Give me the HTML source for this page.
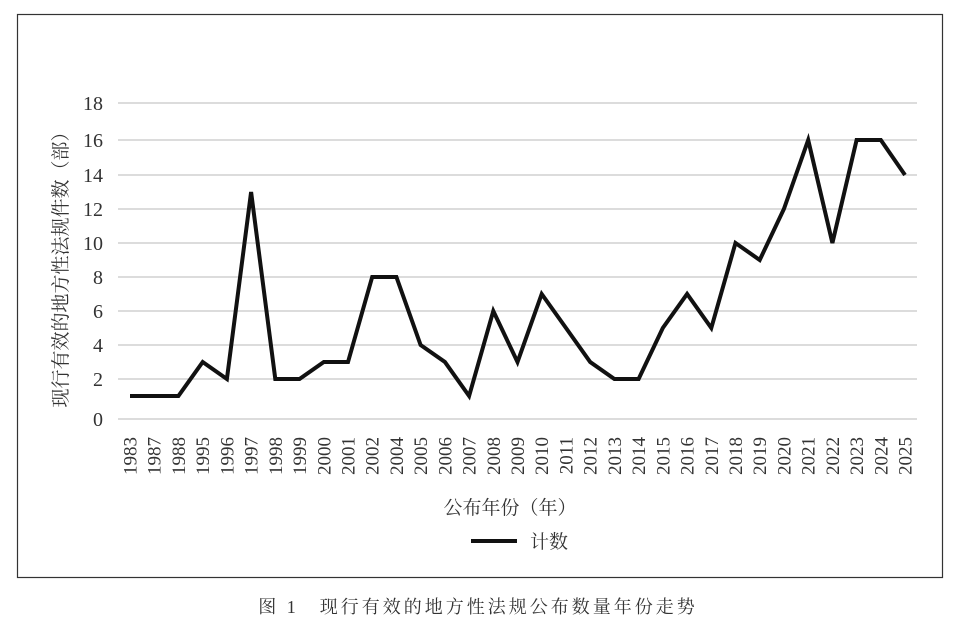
<!DOCTYPE html>
<html><head><meta charset="utf-8"><style>
html,body{margin:0;padding:0;background:#fff;}
svg{display:block;}
text{font-family:"Liberation Serif","Noto Serif CJK SC",serif;fill:#333;}
</style></head><body>
<svg width="966" height="628" viewBox="0 0 966 628" xmlns="http://www.w3.org/2000/svg">
<rect x="17.5" y="14.5" width="925" height="563" fill="none" stroke="#333" stroke-width="1.2"/>
<g stroke="#c8c8c8" stroke-width="1.2">
<line x1="118" x2="917" y1="103" y2="103"/>
<line x1="118" x2="917" y1="140" y2="140"/>
<line x1="118" x2="917" y1="175" y2="175"/>
<line x1="118" x2="917" y1="209" y2="209"/>
<line x1="118" x2="917" y1="243" y2="243"/>
<line x1="118" x2="917" y1="277" y2="277"/>
<line x1="118" x2="917" y1="311" y2="311"/>
<line x1="118" x2="917" y1="345" y2="345"/>
<line x1="118" x2="917" y1="379" y2="379"/>
<line x1="118" x2="917" y1="419" y2="419"/>
</g>
<g font-size="20" text-anchor="end">
<text x="103" y="110">18</text>
<text x="103" y="147">16</text>
<text x="103" y="182">14</text>
<text x="103" y="216">12</text>
<text x="103" y="250">10</text>
<text x="103" y="284">8</text>
<text x="103" y="318">6</text>
<text x="103" y="352">4</text>
<text x="103" y="386">2</text>
<text x="103" y="426">0</text>
</g>
<text transform="translate(67,265) rotate(-90)" font-size="19" text-anchor="middle">现行有效的地方性法规件数（部）</text>
<g id="xl" font-size="19" text-anchor="end"></g>
<polyline id="ln" fill="none" stroke="#111" stroke-width="4" stroke-linejoin="miter" points=""/>
<text x="510" y="514" font-size="19" text-anchor="middle">公布年份（年）</text>
<line x1="471" x2="517" y1="541" y2="541" stroke="#111" stroke-width="4"/>
<text x="530" y="548" font-size="19">计数</text>
<text x="478" y="613" font-size="18" text-anchor="middle" letter-spacing="3" fill="#222">图 1　现行有效的地方性法规公布数量年份走势</text>
</svg>
<script>
var yrs=[1983,1987,1988,1995,1996,1997,1998,1999,2000,2001,2002,2004,2005,2006,2007,2008,2009,2010,2011,2012,2013,2014,2015,2016,2017,2018,2019,2020,2021,2022,2023,2024,2025];
var v=[1,1,1,3,2,13,2,2,3,3,8,8,4,3,1,6,3,7,5,3,2,2,5,7,5,10,9,12,16,10,16,16,14];
var gy={0:419,2:379,4:345,6:311,8:277,10:243,12:209,14:175,16:140,18:103};
function Y(t){if(t==1)return 396;var a=Math.floor(t/2)*2;if(a==t)return gy[a];return (gy[a]+gy[a+2])/2;}
var pts=[],g=document.getElementById('xl'),h='';
for(var i=0;i<yrs.length;i++){var x=130+i*24.22;pts.push(x.toFixed(1)+','+Y(v[i]));
h+='<text transform="translate('+(x+6.5).toFixed(1)+',437) rotate(-90)">'+yrs[i]+'</text>';}
g.innerHTML=h;
document.getElementById('ln').setAttribute('points',pts.join(' '));
</script>
</body></html>
